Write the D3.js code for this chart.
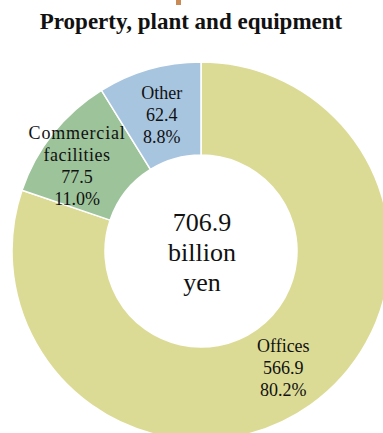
<!DOCTYPE html>
<html><head><meta charset="utf-8">
<script src="https://cdn.jsdelivr.net/npm/d3@7"></script>
<style>html,body{margin:0;padding:0;background:#fff;overflow:hidden}</style>
</head><body>
<svg id="chart" width="383" height="433"></svg>
<script>
const title = "Property, plant and equipment";
const categories = ["Offices", "Commercial facilities", "Other"];
const labelLines = [["Offices"], ["Commercial", "facilities"], ["Other"]];
const values = [566.9, 77.5, 62.4];
const percents = ["80.2%", "11.0%", "8.8%"];
const totalLines = ["706.9", "billion", "yen"];
const colors = ["#dcdb95", "#9dc39b", "#a8c5e0"];

const svg = d3.select("#chart");
const cx = 201, cy = 251, rOuter = 189, rInner = 96;
const serif = "'Liberation Serif','Times New Roman',serif";

// small orange mark at top
svg.append("rect").attr("x", 176).attr("y", 0).attr("width", 5).attr("height", 5).attr("fill", "#c98a55");

svg.append("text").attr("x", 191).attr("y", 29).attr("text-anchor", "middle")
  .attr("font-family", serif).attr("font-weight", "bold").attr("font-size", 23)
  .attr("fill", "#111").text(title);

const pie = d3.pie().sort(null).value(d => d);
const arcs = pie(values);
const arc = d3.arc().innerRadius(rInner).outerRadius(rOuter);
const labelArc = d3.arc().innerRadius(143).outerRadius(143);

const g = svg.append("g").attr("transform", `translate(${cx},${cy})`);
g.selectAll("path").data(arcs).join("path")
  .attr("d", arc).attr("fill", (d, i) => colors[i])
  .attr("stroke", "#fff").attr("stroke-width", 1.5);

// label placement tweaks (layout only)
const nudge = [[-1, 1], [-12, 4], [0, 2]];
const lh = 22;
arcs.forEach((a, i) => {
  const lines = labelLines[i].concat([values[i].toFixed(1), percents[i]]);
  const [x0, y] = labelArc.centroid(a);
  const x = x0 + nudge[i][0];
  const t = g.append("text").attr("text-anchor", "middle")
    .attr("font-family", serif).attr("font-size", 18).attr("fill", "#111");
  const y0 = y + nudge[i][1] + 6 - (lines.length - 1) * lh / 2;
  lines.forEach((s, k) => {
    t.append("tspan").attr("x", x).attr("y", y0 + k * lh)
      .attr("letter-spacing", s === "Commercial" ? 0.8 : (s === "facilities" ? 0.5 : 0))
      .text(s);
  });
});

const ct = g.append("text").attr("text-anchor", "middle")
  .attr("font-family", serif).attr("font-size", 26).attr("fill", "#111");
totalLines.forEach((s, k) => {
  ct.append("tspan").attr("x", 1).attr("y", -20 + k * 30).text(s);
});
</script>
</body></html>
